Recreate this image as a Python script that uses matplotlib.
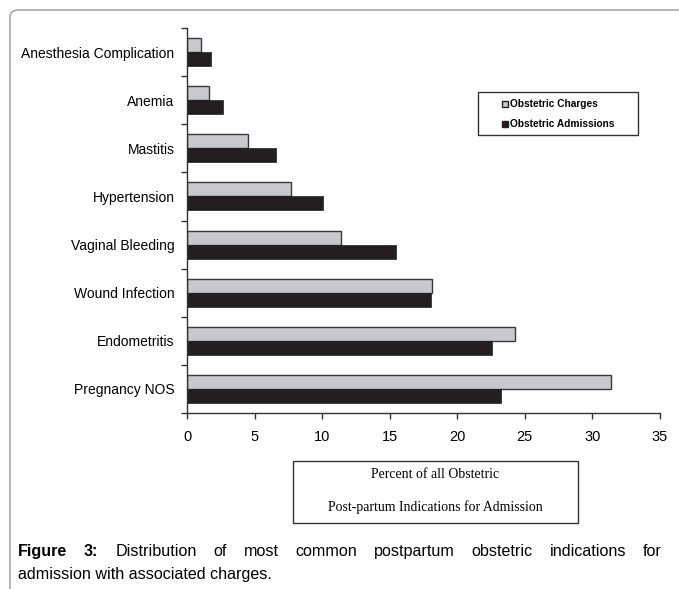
import numpy as np
import matplotlib
matplotlib.use("Agg")
import matplotlib.pyplot as plt
from matplotlib.patches import FancyBboxPatch, Rectangle

plt.rcParams['font.family'] = ['Liberation Sans', 'DejaVu Sans']

# postpartum indications, listed bottom to top
indications = ["Pregnancy NOS", "Endometritis", "Wound Infection", "Vaginal Bleeding",
               "Hypertension", "Mastitis", "Anemia", "Anesthesia Complication"]
charges = [31.4, 24.3, 18.15, 11.4, 7.7, 4.55, 1.6, 1.05]
admissions = [23.2, 22.6, 18.05, 15.45, 10.05, 6.55, 2.65, 1.75]
x_ticks = [0, 5, 10, 15, 20, 25, 30, 35]

W, H = 679, 589
fig = plt.figure(figsize=(W / 100, H / 100), dpi=100)

# rounded outer frame, open on the right and bottom
frame = FancyBboxPatch((10 / W, -0.2), 1.2, 1 - 10 / H + 0.2,
                       boxstyle="round,pad=0,rounding_size=0.012",
                       transform=fig.transFigure, fill=False,
                       edgecolor="#999999", linewidth=1.0)
fig.patches.append(frame)

ax = fig.add_axes([187 / W, 1 - 413 / H, (660 - 187) / W, (413 - 28) / H])

y = np.arange(len(indications))
h = 0.29
ax.barh(y + h / 2, charges, height=h, color="#c8c9cb", edgecolor="#3a3a3a", linewidth=1.0)
ax.barh(y - h / 2, admissions, height=h, color="#231f20", edgecolor="#231f20", linewidth=0.5)

ax.set_xlim(0, 35)
ax.set_ylim(-0.5, len(indications) - 0.5)
ax.set_xticks(x_ticks)
ax.set_xticklabels([str(t) for t in x_ticks], fontsize=10.5)
ax.set_yticks(np.arange(len(indications) + 1) - 0.5)
ax.set_yticklabels([])
ax.set_yticks(y, minor=True)
ax.set_yticklabels(indications, minor=True, fontsize=10)
ax.tick_params(axis="y", which="minor", length=0, pad=9)
ax.tick_params(axis="y", which="major", length=4, width=1, color="#333333")
ax.tick_params(axis="x", length=4, width=1, color="#333333", pad=8)
for s in ["top", "right"]:
    ax.spines[s].set_visible(False)
for s in ["left", "bottom"]:
    ax.spines[s].set_color("#333333")
    ax.spines[s].set_linewidth(1.0)

# legend box with small square swatches
fig.patches.append(Rectangle((478 / W, 1 - 135 / H), 160 / W, 43 / H,
                             transform=fig.transFigure, fill=False,
                             edgecolor="#333333", linewidth=1.0))
fig.patches.append(Rectangle((502 / W, 1 - 107 / H), 6 / W, 6 / H,
                             transform=fig.transFigure, facecolor="#c8c9cb",
                             edgecolor="#231f20", linewidth=1.0))
fig.patches.append(Rectangle((502 / W, 1 - 127 / H), 6 / W, 6 / H,
                             transform=fig.transFigure, facecolor="#231f20",
                             edgecolor="#231f20", linewidth=1.0))
fig.text(510 / W, 1 - 104 / H, "Obstetric Charges", fontsize=7.3, fontweight="bold",
         va="center", ha="left")
fig.text(510 / W, 1 - 124 / H, "Obstetric Admissions", fontsize=7.3, fontweight="bold",
         va="center", ha="left")

# x axis title box
fig.patches.append(Rectangle((293 / W, 1 - 523 / H), 285 / W, 62 / H,
                             transform=fig.transFigure, fill=False,
                             edgecolor="#333333", linewidth=1.0))
fig.text(435 / W, 1 - 474 / H, "Percent of all Obstetric", fontsize=9.9,
         family=["Liberation Serif"], ha="center", va="center")
fig.text(435 / W, 1 - 507 / H, "Post-partum Indications for Admission", fontsize=9.9,
         family=["Liberation Serif"], ha="center", va="center")

# caption, first line justified
line1 = [("Figure", True), ("3:", True), ("Distribution", False), ("of", False),
         ("most", False), ("common", False), ("postpartum", False), ("obstetric", False),
         ("indications", False), ("for", False)]
fig.canvas.draw()
r = fig.canvas.get_renderer()
texts = []
for word, bold in line1:
    t = fig.text(0, 1 - 556 / H, word, fontsize=11.6, va="baseline", ha="left",
                 fontweight="bold" if bold else "normal")
    texts.append(t)
widths = [t.get_window_extent(r).width for t in texts]
x0, x1 = 18, 662
gap = (x1 - x0 - sum(widths)) / (len(texts) - 1)
x = x0
for t, w in zip(texts, widths):
    t.set_x(x / W)
    x += w + gap
fig.text(18 / W, 1 - 579 / H, "admission with associated charges.", fontsize=11.6,
         va="baseline", ha="left")

fig.savefig("out.png", dpi=100)
